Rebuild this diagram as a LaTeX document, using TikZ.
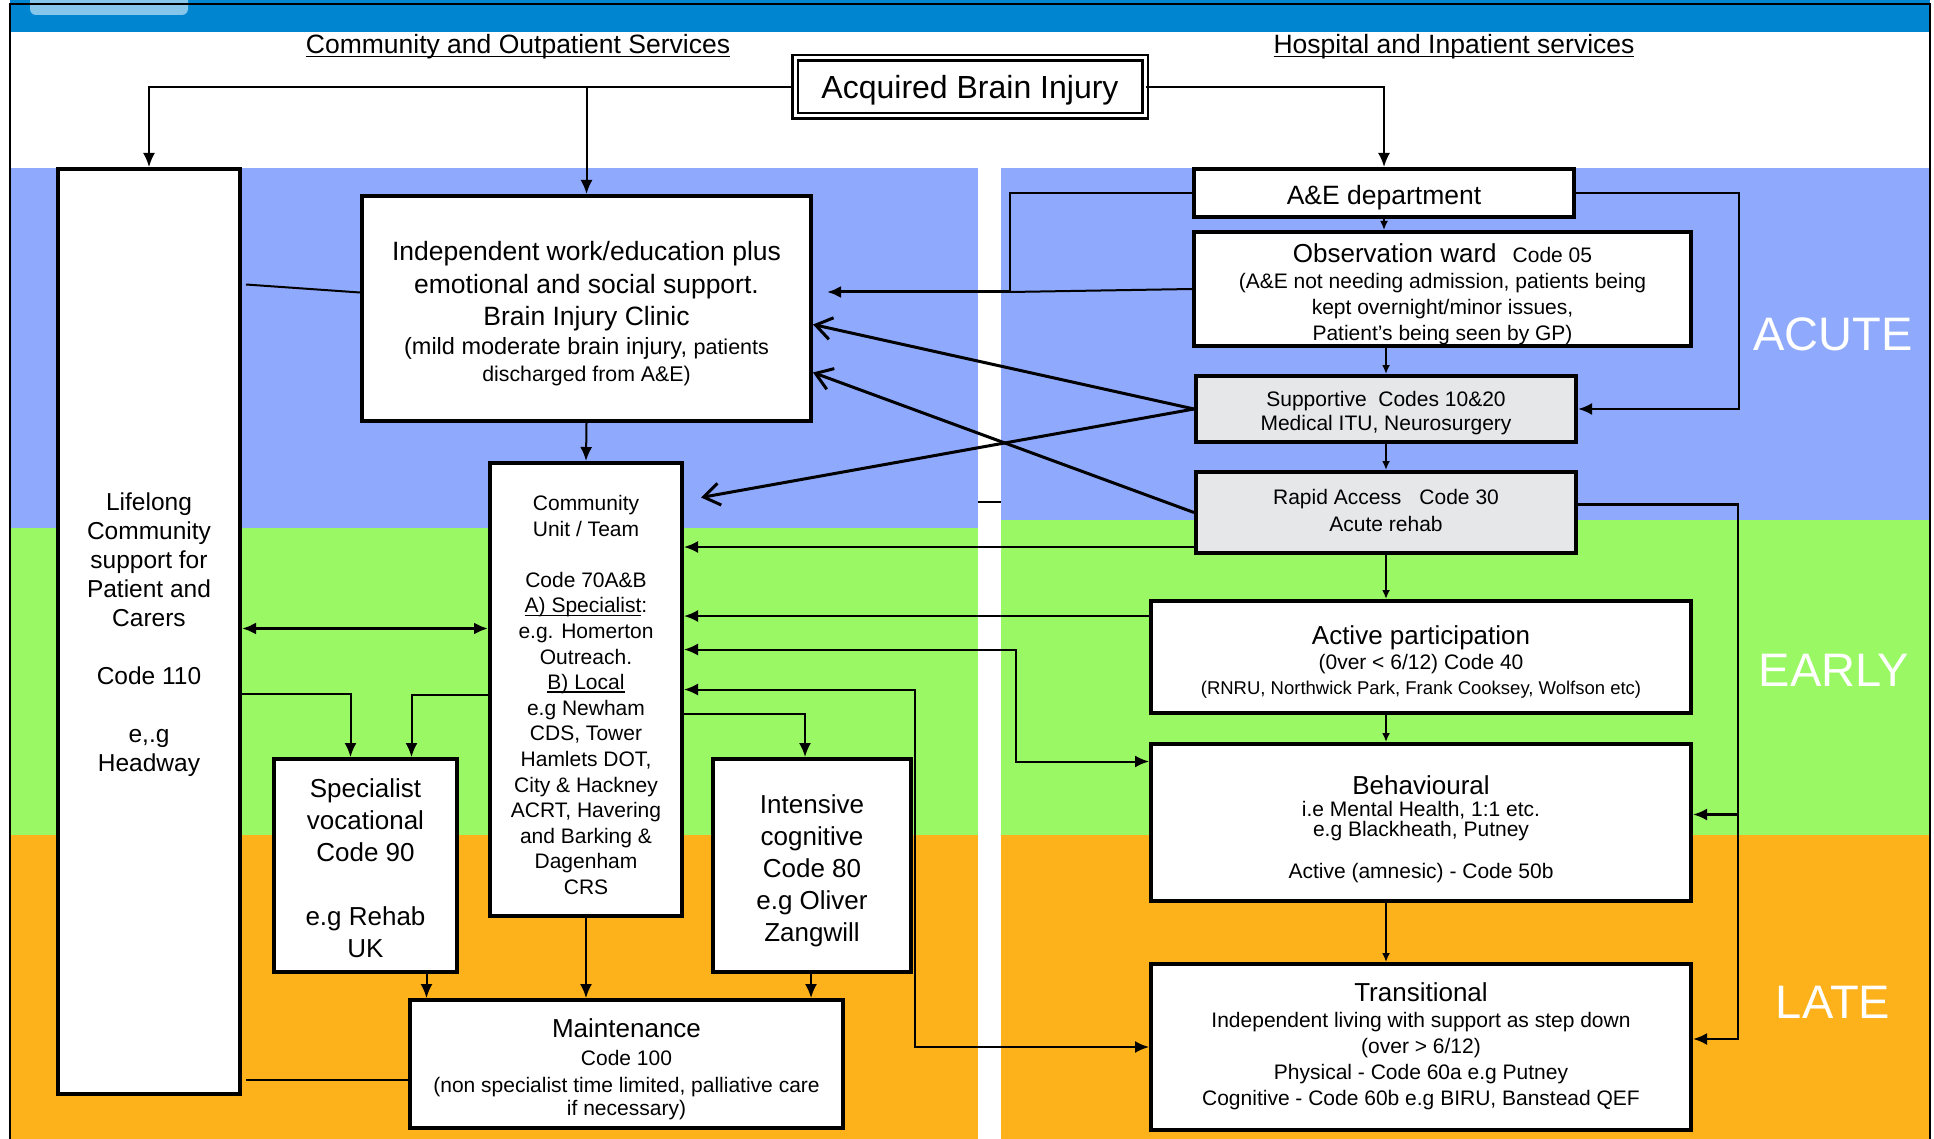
\documentclass[tikz,border=0pt]{standalone}
\usepackage{fontspec}
\setmainfont{Liberation Sans}
\usepackage{tikz}
\usetikzlibrary{arrows.meta}
\usetikzlibrary{calc}

\definecolor{headerblue}{RGB}{0,134,209}
\definecolor{headerlight}{RGB}{135,198,235}
\definecolor{acuteblue}{RGB}{143,170,252}
\definecolor{earlygreen}{RGB}{155,248,101}
\definecolor{lateorange}{RGB}{253,177,26}
\definecolor{boxgrey}{RGB}{230,231,233}

\newcommand{\undertext}[1]{\setbox0=\hbox{#1}\rlap{\rule[-3.5pt]{\wd0}{1.8pt}}\box0}

\tikzset{
	box/.style = {draw, line width=4pt, fill=white, align=center, inner sep=0pt, text depth=0pt,
			font=\fontsize{21}{25.6}\selectfont},
	greybox/.style = {box, fill=boxgrey},
	phase/.style = {text=white, inner sep=0pt, font=\fontsize{47}{50}\selectfont},
	heading/.style = {inner sep=0pt, font=\fontsize{26.5}{30}\selectfont},
	big/.style = {font=\fontsize{26}{32}\selectfont}
}

\begin{document}
\begin{tikzpicture}
		[x=1pt, y=-1pt,
		line width=2pt,
		> = {Latex[length=14pt, width=12pt]},
		small arrow/.style = {-{Latex[length=9pt, width=8pt]}},
		open arrow/.style = {line width=3pt, -{Straight Barb[length=16pt, width=22pt]}}
		]
		\useasboundingbox (0,0) rectangle (1934,1139);

		\fill[headerblue] (10,0) rectangle (1930,32);
		\fill[headerlight, rounded corners=6pt] (30,-10) rectangle (188,15);
		\draw (10,1139) -- (10,4) -- (1930,4) -- (1930,1139);

		\fill[acuteblue] (11,168) rectangle (978,528);
		\fill[earlygreen] (11,528) rectangle (978,835);
		\fill[lateorange] (11,835) rectangle (978,1139);
		\fill[acuteblue] (1001,168) rectangle (1929,520);
		\fill[earlygreen] (1001,520) rectangle (1929,835);
		\fill[lateorange] (1001,835) rectangle (1929,1139);

		\node[heading] (commhead) at (518,47) {\undertext{Community and Outpatient Services}};
		\node[heading] (hosphead) at (1454,47) {\undertext{Hospital and Inpatient services}};

		\node[draw, double, double distance=3pt, line width=2.5pt, fill=white, inner sep=0pt,
			minimum width=350pt, minimum height=58pt, text height=24pt, text depth=0pt,
			font=\fontsize{32}{36}\selectfont]
			(abi) at (970,87) {Acquired Brain Injury};

		\node[box, minimum width=182pt, minimum height=925pt, text height=279.5pt,
			font=\fontsize{24.5}{29}\selectfont]
			(life) at (149,631.5)
			{Lifelong\\Community\\support for\\Patient and\\Carers\\[29pt]Code 110\\[29pt]e,.g\\Headway};
		\node[box, minimum width=449pt, minimum height=225pt, text height=145pt,
			font=\fontsize{26.5}{32.5}\selectfont]
			(indep) at (586.5,308.5)
			{Independent work/education plus\\emotional and social support.\\Brain Injury Clinic\\[-4pt]{\fontsize{23.5}{27}\selectfont(mild moderate brain injury, }{\fontsize{21.5}{25}\selectfont patients}\\[-6pt]{\fontsize{21.3}{25}\selectfont discharged from A\&E)}};
		\node[box, minimum width=192pt, minimum height=453pt, text height=410pt] (cunit) at (586,689.5)
			{Community\\Unit / Team\\[25.6pt]Code 70A\&B\\\undertext{A) Specialist}:\\e.g. Homerton\\Outreach.\\\undertext{B) Local}\\e.g Newham\\CDS, Tower\\Hamlets DOT,\\City \& Hackney\\ACRT, Havering\\and Barking \&\\Dagenham\\CRS};
		\node[box, big, minimum width=183pt, minimum height=213pt, text height=184pt] (spec) at (365.5,865.5)
			{Specialist\\vocational\\Code 90\\[32pt]e.g Rehab\\UK};
		\node[box, big, minimum width=198pt, minimum height=213pt, text height=151pt] (icog) at (812,865.5)
			{Intensive\\cognitive\\Code 80\\e.g Oliver\\Zangwill};
		\node[box, minimum width=433pt, minimum height=128pt, text height=102pt,
			font=\fontsize{21}{25}\selectfont]
			(maint) at (626.5,1064)
			{{\fontsize{26}{30}\selectfont Maintenance}\\[2.5pt]Code 100\\[2pt](non specialist time limited, palliative care\\[-2pt]if necessary)};

		\node[box, minimum width=380pt, minimum height=48pt, text height=23.5pt,
			font=\fontsize{26.5}{30}\selectfont]
			(ae) at (1384,193) {A\&E department};
		\node[box, minimum width=497pt, minimum height=114pt, text height=103pt,
			font=\fontsize{21}{25.8}\selectfont]
			(obs) at (1442.5,289)
			{{\fontsize{26}{30}\selectfont Observation ward}\hspace{16pt}Code 05\\[1pt](A\&E not needing admission, patients being\\kept overnight/minor issues,\\Patient’s being seen by GP)};
		\node[greybox, minimum width=380pt, minimum height=66pt, text height=42.5pt,
			font=\fontsize{21}{24}\selectfont]
			(supp) at (1386,409) {Supportive\ \ Codes 10\&20\\Medical ITU, Neurosurgery};
		\node[greybox, minimum width=380pt, minimum height=81pt, text height=37.5pt,
			font=\fontsize{21}{27}\selectfont]
			(rapid) at (1386,512.5) {Rapid Access\hspace{18pt}Code 30\\Acute rehab};
		\node[box, minimum width=540pt, minimum height=112pt, text height=75.5pt,
			font=\fontsize{21}{26}\selectfont]
			(active) at (1421,657)
			{{\fontsize{26}{30}\selectfont Active participation}\\[-0.5pt](0ver < 6/12) Code 40\\[-1pt]{\fontsize{18.5}{22}\selectfont(RNRU, Northwick Park, Frank Cooksey, Wolfson etc)}};
		\node[box, minimum width=540pt, minimum height=157pt, text height=112.5pt,
			font=\fontsize{21}{21}\selectfont]
			(behav) at (1421,822.5)
			{{\fontsize{26}{30}\selectfont Behavioural}\\[1.5pt]i.e Mental Health, 1:1 etc.\\[-1pt]e.g Blackheath, Putney\\[21pt]Active (amnesic) - Code 50b};
		\node[box, minimum width=540pt, minimum height=166pt, text height=116pt,
			font=\fontsize{21}{25.7}\selectfont]
			(trans) at (1421,1047)
			{{\fontsize{26}{30}\selectfont Transitional}\\[1pt]Independent living with support as step down\\(over > 6/12)\\Physical - Code 60a e.g Putney\\Cognitive - Code 60b e.g BIRU, Banstead QEF};

		\node[phase] (acute) at (1833,334) {ACUTE};
		\node[phase] (early) at (1834,670) {EARLY};
		\node[phase] (late) at (1833,1002) {LATE};

		\draw[->] (abi.west) -| (life.north);
		\draw[->] (abi.west -| indep.north) -- (indep.north);
		\draw[->] (abi.east) -| (ae.north);
		\draw[->] (indep.south) -- (cunit.north);
		\draw ($(life.east |- indep.west)+(4,-24)$) -- ($(indep.west)+(0,-16)$);

		\coordinate (aejoin) at (1010,292);
		\draw (ae.west) -| (aejoin);
		\draw (obs.west) -- (aejoin);
		\draw[->, line width=3pt] (aejoin) -- ($(aejoin -| indep.east)+(14,0)$);
		\draw[open arrow] (supp.west) -- ($(indep.east)+(0,16)$);
		\draw[open arrow] (rapid.west) -- ($(indep.east)+(0,64)$);
		\draw[open arrow] (supp.west) -- ($(cunit.east)+(17,-192)$);

		\draw[->] ($(rapid.south west)+(0,-8)$) -- ($(rapid.south west -| cunit.east)+(0,-8)$);
		\draw[->] ($(active.west)+(0,-41)$) -- ($(active.west -| cunit.east)+(0,-41)$);
		\draw[<->] ($(cunit.east)+(0,-40)$) -| ($(behav.west)+(-133,-61)$) -- ($(behav.west)+(0,-61)$);
		\draw[<->] (cunit.east) -| ($(trans.west)+(-234,0)$) -- (trans.west);
		\draw[->] ($(cunit.east)+(0,24)$) -| ($(icog.north)+(-7,0)$);
		\draw[->] ($(cunit.west)+(0,5)$) -| ($(spec.north)+(46,0)$);
		\draw[->] ($(life.east)+(0,62)$) -| ($(spec.north)+(-15,0)$);
		\draw[<->, line width=3pt] ($(life.east)+(0,-3)$) -- ($(life.east -| cunit.west)+(0,-3)$);
		\draw[->] (cunit.south) -- (cunit.south |- maint.north);
		\draw[->] ($(spec.south)+(61,0)$) -- ($(spec.south |- maint.north)+(61,0)$);
		\draw[->] ($(icog.south)+(-1,0)$) -- ($(icog.south |- maint.north)+(-1,0)$);
		\draw ($(life.east |- maint.west)+(4,16)$) -- ($(maint.west)+(0,16)$);
		\draw (978,502) -- (1001,502);

		\draw[small arrow] (ae.south) -- (ae.south |- obs.north);
		\draw[small arrow] (supp.north |- obs.south) -- (supp.north);
		\draw[small arrow] (supp.south) -- (rapid.north);
		\draw[small arrow] (rapid.south) -- (rapid.south |- active.north);
		\draw[small arrow] (rapid.south |- active.south) -- (rapid.south |- behav.north);
		\draw[small arrow] (rapid.south |- behav.south) -- (rapid.south |- trans.north);

		\draw[->, line width=2.5pt] (ae.east) -| ($(supp.east)+(161,0)$) -- (supp.east);
		\draw[->, line width=2.5pt] ($(rapid.east)+(0,-8)$) -| ($(trans.east)+(45,-8)$) -- ($(trans.east)+(0,-8)$);
		\draw[->, line width=2.5pt] ($(behav.east)+(45,-8)$) -- ($(behav.east)+(0,-8)$);
	\end{tikzpicture}
\end{document}
